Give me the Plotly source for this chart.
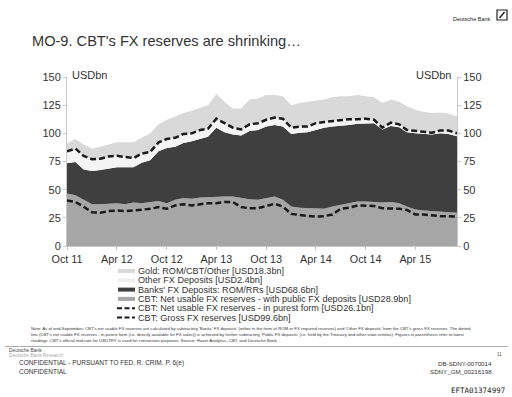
import plotly.graph_objects as go
import pandas as pd

# ---- data (USD bn, month-end levels, Oct 2011 - Sep 2015) ----
months = pd.date_range("2011-10-01", "2015-09-01", freq="MS")

# top of bottom layer: CBT net usable FX reserves - with public FX deposits
net_public = [46.5, 45, 41, 37, 37, 37.5, 38, 37, 38.5, 38, 39, 40,
              38, 41, 42.5, 42, 43, 43.5, 44, 44, 44, 42.5, 41.5, 41,
              42.5, 44, 41, 35, 34, 33.5, 33, 33, 35, 36.5, 38, 39.5,
              39.5, 39, 38.5, 39, 38, 35, 32.5, 31.5, 31, 30.5, 30, 29.5]
# top of Banks' FX deposits layer (cumulative)
banks_top = [73.5, 74.5, 68, 66.5, 67.5, 69, 70, 70, 70, 74, 76, 84,
             87, 88, 91.5, 93, 95, 97, 105, 101, 99, 98, 102, 103,
             106, 107.5, 106, 99.5, 100.5, 101, 103, 105, 106, 106.5, 107.5, 108.5,
             109, 109, 103.5, 106.5, 105.5, 101, 100, 99.5, 99, 100, 99.5, 97.5]
# CBT gross FX reserves (= top of Other FX deposits layer)
gross = [84, 86.5, 80, 77, 77.5, 79.5, 80, 79, 78, 82, 83.5, 92,
         95, 96, 99.5, 100, 103, 104, 113, 109, 105, 103.5, 108, 109,
         112, 114, 113, 105, 106, 106, 109, 110, 111, 112, 112.5, 112.5,
         113, 112, 105, 109.5, 108, 103, 102, 101, 100.5, 102.5, 102.5, 100]
# top of Gold layer (cumulative)
gold_top = [91, 95, 90, 86.5, 88, 90, 92, 92, 92, 96, 100, 108,
            112, 115, 118, 120, 123, 125, 135, 128, 122, 122, 130, 131,
            134, 134, 133, 125, 127, 128, 129, 130, 132, 133, 133, 134,
            133, 132, 127, 130, 128, 124, 121, 119, 118, 118.5, 117.5, 115]
# CBT net usable FX reserves - in purest form
purest = [40.5, 39, 35, 30, 29.5, 31, 31.5, 31, 31.5, 32, 33, 34.5,
          33, 36, 37, 36, 37, 38, 38, 39, 39, 34.5, 33.5, 33.5,
          35.5, 37.5, 35, 28.5, 27.5, 27, 26, 26.5, 28, 33, 34, 36,
          36, 35.5, 33.5, 33.5, 33, 32, 28, 28, 27, 26.5, 26.5, 26]

tick_dates = ["2011-10-01", "2012-04-01", "2012-10-01", "2013-04-01",
              "2013-10-01", "2014-04-01", "2014-10-01", "2015-04-01"]
tick_labels = ["Oct 11", "Apr 12", "Oct 12", "Apr 13",
               "Oct 13", "Apr 14", "Oct 14", "Apr 15"]
y_ticks = [0, 25, 50, 75, 100, 125, 150]

legend_items = [
    ("Gold: ROM/CBT/Other [USD18.3bn]", "area", "#d9d9d9"),
    ("Other FX Deposits [USD2.4bn]", "area", "#efefef"),
    ("Banks' FX Deposits: ROM/RRs [USD68.6bn]", "area", "#3f3f3f"),
    ("CBT: Net usable FX reserves - with public FX deposits [USD28.9bn]", "area", "#a6a6a6"),
    ("CBT: Net usable FX reserves - in purest form [USD26.1bn]", "line", "#1a1a1a"),
    ("CBT: Gross FX reserves [USD99.6bn]", "line", "#1a1a1a"),
]

FONT = "Liberation Sans, Arial, sans-serif"
TXT = "#333333"

W, H = 512, 397
# plot area in page pixels
L, R, T, B = 67, 457, 77, 246


def px(x):
    return (x - L) / (R - L)


def py(y):
    return (B - y) / (B - T)


fig = go.Figure()

fig.add_trace(go.Scatter(x=months, y=net_public, fill="tozeroy", mode="lines",
                         line=dict(width=0, color="#a6a6a6"), fillcolor="#a6a6a6",
                         hoverinfo="skip", showlegend=False))
fig.add_trace(go.Scatter(x=months, y=banks_top, fill="tonexty", mode="lines",
                         line=dict(width=0, color="#3f3f3f"), fillcolor="#3f3f3f",
                         hoverinfo="skip", showlegend=False))
fig.add_trace(go.Scatter(x=months, y=gross, fill="tonexty", mode="lines",
                         line=dict(width=0, color="#f4f4f4"), fillcolor="#f4f4f4",
                         hoverinfo="skip", showlegend=False))
fig.add_trace(go.Scatter(x=months, y=gold_top, fill="tonexty", mode="lines",
                         line=dict(width=0, color="#d9d9d9"), fillcolor="#d9d9d9",
                         hoverinfo="skip", showlegend=False))
fig.add_trace(go.Scatter(x=months, y=purest, mode="lines",
                         line=dict(width=2.5, color="#1a1a1a", dash="6px,3px"),
                         hoverinfo="skip", showlegend=False))
fig.add_trace(go.Scatter(x=months, y=gross, mode="lines",
                         line=dict(width=2.5, color="#1a1a1a", dash="6px,3px"),
                         hoverinfo="skip", showlegend=False))
# invisible trace for right axis
fig.add_trace(go.Scatter(x=[months[0]], y=[0], yaxis="y2", mode="markers",
                         marker=dict(opacity=0), hoverinfo="skip", showlegend=False))

axis_common = dict(range=[0, 150], tickvals=y_ticks, showgrid=False, zeroline=False,
                   showline=True, linecolor="#c8c8c8", linewidth=1,
                   ticks="outside", ticklen=3, tickcolor="#c8c8c8",
                   tickfont=dict(family=FONT, size=11, color=TXT))

fig.update_layout(
    width=W, height=H,
    margin=dict(l=L, r=W - R, t=T, b=H - B, pad=0),
    paper_bgcolor="white", plot_bgcolor="white",
    showlegend=False,
    xaxis=dict(range=[months[0], months[-1]], tickvals=tick_dates, ticktext=tick_labels,
               showgrid=False, zeroline=False, showline=True, linecolor="#c8c8c8",
               ticks="outside", ticklen=3, tickcolor="#c8c8c8",
               tickfont=dict(family=FONT, size=10.8, color=TXT)),
    yaxis=dict(**axis_common, side="left"),
    yaxis2=dict(**axis_common, side="right", overlaying="y"),
)

ann = []
shapes = []

# title & header
ann.append(dict(text="MO-9. CBT's FX reserves are shrinking…", x=px(30), y=py(41.5),
                xanchor="left", yanchor="middle", showarrow=False,
                font=dict(family=FONT, size=14.6, color=TXT)))
ann.append(dict(text="Deutsche Bank", x=px(493), y=py(19), xanchor="right", yanchor="middle",
                showarrow=False, font=dict(family=FONT, size=5.5, color="#222")))
shapes.append(dict(type="rect", xref="paper", yref="paper", x0=px(497), x1=px(507),
                   y0=py(20), y1=py(10), line=dict(color="#222", width=1.2), fillcolor="white"))
shapes.append(dict(type="line", xref="paper", yref="paper", x0=px(499.5), x1=px(504.5),
                   y0=py(18), y1=py(12), line=dict(color="#222", width=1.5)))

# unit labels
ann.append(dict(text="USDbn", x=px(70), y=py(75), xanchor="left", yanchor="middle",
                showarrow=False, font=dict(family=FONT, size=11, color=TXT)))
ann.append(dict(text="USDbn", x=px(453), y=py(75), xanchor="right", yanchor="middle",
                showarrow=False, font=dict(family=FONT, size=11, color=TXT)))

# manual legend
leg_y = [271, 280.3, 289.6, 298.9, 308.2, 317.5]
for (label, kind, col), yy in zip(legend_items, leg_y):
    if kind == "area":
        shapes.append(dict(type="rect", xref="paper", yref="paper",
                           x0=px(118), x1=px(135), y0=py(yy - 2), y1=py(yy + 2),
                           line=dict(width=0), fillcolor=col))
    else:
        shapes.append(dict(type="line", xref="paper", yref="paper",
                           x0=px(117), x1=px(135), y0=py(yy), y1=py(yy),
                           line=dict(color=col, width=2, dash="5px,2.5px")))
    ann.append(dict(text=label, x=px(136), y=py(yy), xanchor="left", yanchor="middle",
                    showarrow=False, font=dict(family=FONT, size=9.1, color=TXT)))

# note
note_lines = [
    "Note: As of end-September, CBT's net usable FX reserves are calculated by subtracting 'Banks' FX deposits' (either in the form of ROM or FX required reserves) and 'Other FX deposits' from the CBT's gross FX reserves. The dotted",
    "line (CBT's net usable FX reserves - in purest form (i.e. directly available for FX sales)) is achieved by further subtracting 'Public FX deposits' (i.e. held by the Treasury and other state entities). Figures in parenthesis refer to latest",
    "readings. CBT's official mid-rate for USDTRY is used for conversion purposes. Source: Haver Analytics, CBT, and Deutsche Bank",
]
for line, yy in zip(note_lines, [328, 334, 340]):
    ann.append(dict(text=line, x=px(29), y=py(yy), xanchor="left", yanchor="middle",
                    showarrow=False, font=dict(family=FONT, size=4.3, color="#333")))

shapes.append(dict(type="line", xref="paper", yref="paper", x0=px(5), x1=px(508),
                   y0=py(346.5), y1=py(346.5), line=dict(color="#999", width=0.8)))

# footer
ann.append(dict(text="Deutsche Bank", x=px(7), y=py(350.2), xanchor="left", yanchor="middle",
                showarrow=False, font=dict(family=FONT, size=4.8, color="#444")))
ann.append(dict(text="Deutsche Bank Research", x=px(7), y=py(355.5), xanchor="left", yanchor="middle",
                showarrow=False, font=dict(family=FONT, size=4.8, color="#aaa")))
ann.append(dict(text="11", x=px(504), y=py(354), xanchor="right", yanchor="middle",
                showarrow=False, font=dict(family=FONT, size=4.5, color="#555")))
ann.append(dict(text="CONFIDENTIAL - PURSUANT TO FED. R. CRIM. P. 6(e)", x=px(17), y=py(363),
                xanchor="left", yanchor="middle", showarrow=False,
                font=dict(family=FONT, size=6.5, color="#333")))
ann.append(dict(text="CONFIDENTIAL", x=px(17), y=py(371), xanchor="left", yanchor="middle",
                showarrow=False, font=dict(family=FONT, size=6.5, color="#333")))
ann.append(dict(text="DB-SDNY-0070014", x=px(494), y=py(363), xanchor="right", yanchor="middle",
                showarrow=False, font=dict(family=FONT, size=6.2, color="#333")))
ann.append(dict(text="SDNY_GM_00216198", x=px(494), y=py(371), xanchor="right", yanchor="middle",
                showarrow=False, font=dict(family=FONT, size=6.2, color="#333")))
ann.append(dict(text="EFTA01374997", x=px(507), y=py(390), xanchor="right", yanchor="middle",
                showarrow=False, font=dict(family="DejaVu Sans Mono, monospace", size=7.5, color="#222")))

for a in ann:
    a.setdefault("xref", "paper")
    a.setdefault("yref", "paper")
fig.update_layout(annotations=ann, shapes=shapes)

fig.write_html("out.html", config={"displayModeBar": False},
               post_script="document.body.style.margin='0';document.body.style.overflow='hidden';")
